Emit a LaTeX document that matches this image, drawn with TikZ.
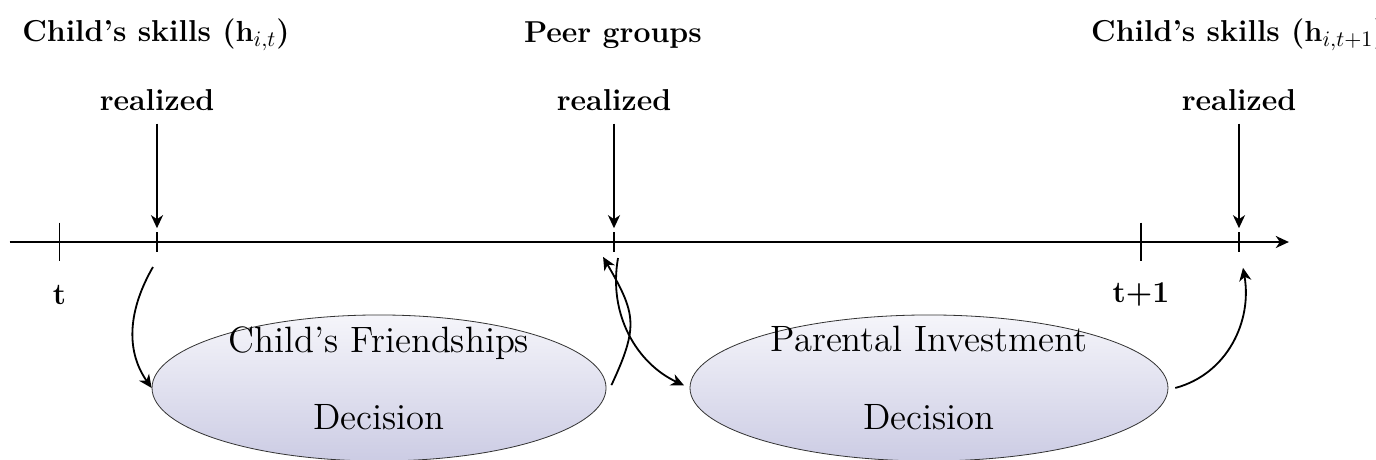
\documentclass[tikz,border=0pt]{standalone}
\usepackage{amsmath}
\usepackage{amssymb}
\usepackage{xcolor}
\usepackage{tikz}
\usetikzlibrary{shapes.geometric, calc, arrows.meta}

\definecolor{lavtop}{RGB}{245,245,250}
\definecolor{lavbot}{RGB}{204,204,228}

\begin{document}
\begin{tikzpicture}[
        lab/.style={font=\fontsize{15}{18}\selectfont\bfseries},
        decision/.style={ellipse, draw=black!80, thin, top color=lavtop, bottom color=lavbot, minimum height=2.547cm},
        choice/.style={font=\Large, align=center, scale=1.263},
        flow/.style={line width=0.9pt, -{Stealth[length=6.5pt, width=6pt, inset=2pt]}}
    ]
        \useasboundingbox (0,0) rectangle (24,-8.006);

        \coordinate (start) at (0.17,-4.221);
        \coordinate (end) at (22.48,-4.221);
        \draw[flow] (start) -- (end);

        \coordinate (t0) at (1.038,-4.221);
        \coordinate (t1) at (19.90,-4.221);
        \coordinate (hit) at (2.738,-4.221);
        \coordinate (peer) at (10.709,-4.221);
        \coordinate (hnext) at (21.61,-4.221);

        \draw[thick] ([yshift=0.34cm]t0) -- ([yshift=-0.34cm]t0);
        \draw[thick] ([yshift=0.34cm]t1) -- ([yshift=-0.34cm]t1);
        \draw[thick] ([yshift=0.17cm]hit) -- ([yshift=-0.17cm]hit);
        \draw[thick] ([yshift=0.17cm]peer) -- ([yshift=-0.17cm]peer);
        \draw[thick] ([yshift=0.17cm]hnext) -- ([yshift=-0.17cm]hnext);

        \node[lab] (tlab) at (1.038,-5.145) {t};
        \node[lab] (t1lab) at (19.90,-5.145) {t+1};

        \node[lab] (hitlab) at (2.72,-0.61) {Child's skills ($\mathbf{h}_{i,t}$)};
        \node[lab] (hitreal) at (2.738,-1.744) {realized};
        \node[lab] (peerlab) at (10.69,-0.61) {Peer groups};
        \node[lab] (peerreal) at (10.709,-1.744) {realized};
        \node[lab] (hnextlab) at (21.61,-0.61) {Child's skills ($\mathbf{h}_{i,t+1}$)};
        \node[lab] (hnextreal) at (21.61,-1.744) {realized};

        \draw[flow, shorten <=3pt, shorten >=2pt] (hitreal.south) -- ([yshift=0.17cm]hit);
        \draw[flow, shorten <=3pt, shorten >=2pt] (peerreal.south) -- ([yshift=0.17cm]peer);
        \draw[flow, shorten <=3pt, shorten >=2pt] (hnextreal.south) -- ([yshift=0.17cm]hnext);

        \node[decision, minimum width=7.919cm] (friend) at (6.611,-6.767) {};
        \node[decision, minimum width=8.337cm] (invest) at (16.203,-6.767) {};
        \node[choice] (friendtxt) at ([yshift=0.17cm]friend.center) {Child's Friendships\\[12.6pt]Decision};
        \node[choice] (investtxt) at ([yshift=0.17cm]invest.center) {Parental Investment\\[12.6pt]Decision};

        \draw[flow] ([shift={(-0.07,-0.436)}]hit) to[out=240, in=125] (friend.west);
        \draw[flow] ([shift={(0.087,0.05)}]friend.east) to[out=65, in=-60, looseness=1.3] ([shift={(-0.19,-0.26)}]peer);
        \draw[flow, shorten >=3pt] ([shift={(0.07,-0.28)}]peer) to[out=-100, in=155] (invest.west);
        \draw[flow] ([xshift=0.12cm]invest.east) to[out=15, in=-80] ([shift={(0.07,-0.45)}]hnext);
    \end{tikzpicture}
\end{document}
